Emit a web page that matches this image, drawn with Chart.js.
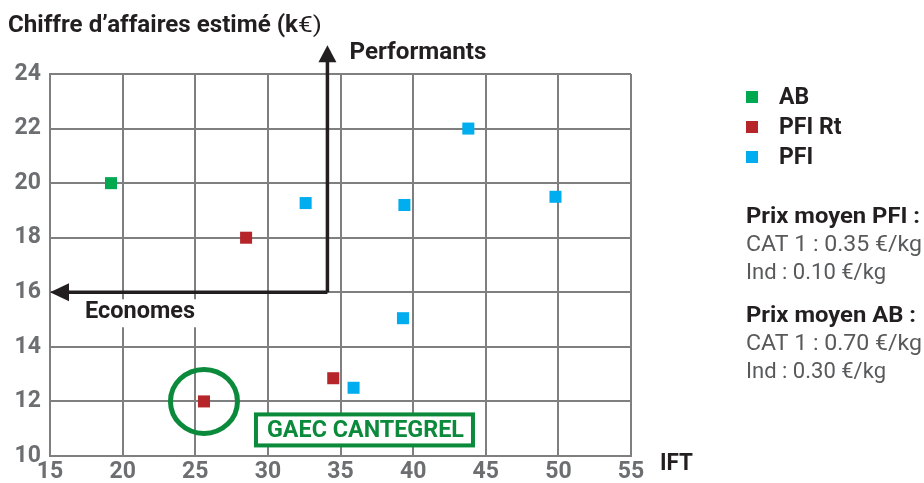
<!DOCTYPE html>
<html><head><meta charset="utf-8">
<script src="https://cdn.jsdelivr.net/npm/chart.js@4"></script>
<style>html,body{margin:0;padding:0;background:#fff}#wrap{width:924px;height:483px}</style>
</head><body><div id="wrap"><canvas id="c" width="924" height="483"></canvas></div>
<script>
const seriesNames = ["AB", "PFI Rt", "PFI"];
const seriesColors = ["#00a94f", "#b5252a", "#00aeef"];
const abX = [19.2];
const abY = [20.0];
const pfiRtX = [28.5, 34.5, 25.6];
const pfiRtY = [18.0, 12.85, 12.0];
const pfiX = [32.6, 39.4, 43.8, 49.8, 39.3, 35.9];
const pfiY = [19.27, 19.2, 22.0, 19.5, 15.05, 12.5];
const xTicks = [15, 20, 25, 30, 35, 40, 45, 50, 55];
const yTicks = [10, 12, 14, 16, 18, 20, 22, 24];
const yTitle = "Chiffre d\u2019affaires estim\u00e9 (k";
const xTitle = "IFT";
const priceLines = [
  ["Prix moyen PFI :", true], ["CAT 1 : 0.35 \u20ac/kg", false], ["Ind : 0.10 \u20ac/kg", false],
  ["Prix moyen AB :", true], ["CAT 1 : 0.70 \u20ac/kg", false], ["Ind : 0.30 \u20ac/kg", false]
];
const quadrant = { x: 34.1, y: 16, topArrow: 25.05 };
const highlight = { x: 25.6, y: 12.0, label: "GAEC CANTEGREL" };

const FONT = "Roboto, 'Liberation Sans', sans-serif";
const pts = (xs, ys) => xs.map((x, i) => ({ x: x, y: ys[i] }));

function fitText(ctx, text, x, y, w) {
  const m = ctx.measureText(text).width;
  ctx.save(); ctx.translate(x, y); ctx.scale(w / m, 1); ctx.fillText(text, 0, 0); ctx.restore();
}

const overlay = {
  id: 'overlay',
  afterDatasetsDraw(chart) {
    const ctx = chart.ctx, xs = chart.scales.x, ys = chart.scales.y;
    ctx.save();
    const qx = xs.getPixelForValue(quadrant.x), qy = ys.getPixelForValue(quadrant.y);
    const topY = ys.getPixelForValue(quadrant.topArrow);
    const leftX = xs.getPixelForValue(xs.min);
    ctx.strokeStyle = "#231f20"; ctx.fillStyle = "#231f20"; ctx.lineWidth = 3.5;
    ctx.beginPath(); ctx.moveTo(qx, qy); ctx.lineTo(qx, topY + 14); ctx.stroke();
    ctx.beginPath(); ctx.moveTo(qx, qy); ctx.lineTo(leftX + 16, qy); ctx.stroke();
    ctx.beginPath(); ctx.moveTo(qx, topY); ctx.lineTo(qx - 9, topY + 17); ctx.lineTo(qx + 9, topY + 17); ctx.closePath(); ctx.fill();
    ctx.beginPath(); ctx.moveTo(leftX, qy); ctx.lineTo(leftX + 19, qy - 9); ctx.lineTo(leftX + 19, qy + 9); ctx.closePath(); ctx.fill();
    ctx.font = "bold 23px " + FONT; ctx.textBaseline = "middle"; ctx.textAlign = "left";
    fitText(ctx, "Performants", qx + 22, topY + 8, 137);
    ctx.fillStyle = "#fff"; ctx.fillRect(80, qy + 7, 120, 28);
    ctx.fillStyle = "#231f20"; fitText(ctx, "Economes", 85, qy + 20, 110);
    const hx = xs.getPixelForValue(highlight.x), hy = ys.getPixelForValue(highlight.y);
    ctx.strokeStyle = "#0a8a3a"; ctx.lineWidth = 5;
    ctx.beginPath(); ctx.ellipse(hx, hy, 33.5, 32, 0, 0, Math.PI * 2); ctx.stroke();
    ctx.font = "bold 23px " + FONT;
    const bx = hx + 52, by = hy + 13, bw = 217, bh = 31;
    ctx.fillStyle = "#fff"; ctx.fillRect(bx, by, bw, bh);
    ctx.lineWidth = 4; ctx.strokeRect(bx, by, bw, bh);
    ctx.fillStyle = "#0a8a3a";
    fitText(ctx, highlight.label, bx + 11, by + bh / 2 + 1, 197);
    ctx.fillStyle = "#231f20"; ctx.font = "bold 23px " + FONT;
    fitText(ctx, yTitle, 8, 26, 290);
    ctx.font = "22px " + FONT; fitText(ctx, "\u20ac)", 298, 26, 24);
    ctx.font = "bold 23px " + FONT; fitText(ctx, xTitle, 660, 464, 33);
    chart.data.datasets.forEach((ds, i) => {
      const ly = 97 + i * 30;
      ctx.fillStyle = ds.backgroundColor; ctx.fillRect(746, ly - 6, 12, 12);
      ctx.fillStyle = "#231f20"; ctx.font = "bold 23px " + FONT;
      ctx.fillText(ds.label, 779, ly + 1);
    });
    const py = [217, 245, 273, 316, 344, 372];
    const pw = [174, 176, 140, 170, 176, 140];
    priceLines.forEach((l, i) => {
      ctx.font = (l[1] ? "bold " : "") + "22px " + FONT;
      ctx.fillStyle = l[1] ? "#231f20" : "#58595b";
      fitText(ctx, l[0], 746, py[i], pw[i]);
    });
    ctx.restore();
  }
};

new Chart(document.getElementById('c'), {
  type: 'scatter',
  data: {
    datasets: [
      { label: seriesNames[0], data: pts(abX, abY), backgroundColor: seriesColors[0] },
      { label: seriesNames[1], data: pts(pfiRtX, pfiRtY), backgroundColor: seriesColors[1] },
      { label: seriesNames[2], data: pts(pfiX, pfiY), backgroundColor: seriesColors[2] }
    ].map(d => Object.assign(d, { pointStyle: 'rect', pointRadius: 8.5, borderWidth: 0, borderColor: d.backgroundColor }))
  },
  options: {
    responsive: false, animation: false,
    layout: { padding: { top: 74, right: 293, left: 0, bottom: 0 } },
    plugins: { legend: { display: false }, tooltip: { enabled: false } },
    scales: {
      x: {
        type: 'linear', min: 15, max: 55,
        afterBuildTicks: s => { s.ticks = xTicks.map(v => ({ value: v })); },
        afterFit: s => { s.height = 27; },
        grid: { color: '#7f7f7f', lineWidth: 2, drawTicks: false },
        border: { color: '#7f7f7f', width: 2 },
        ticks: { color: '#6d6e71', font: { family: FONT, size: 23, weight: 'bold' }, padding: 2, maxRotation: 0 }
      },
      y: {
        type: 'linear', min: 10, max: 24,
        afterBuildTicks: s => { s.ticks = yTicks.map(v => ({ value: v })); },
        afterFit: s => { s.width = 50; },
        grid: { color: '#7f7f7f', lineWidth: 2, drawTicks: false },
        border: { color: '#7f7f7f', width: 2 },
        ticks: { color: '#6d6e71', font: { family: FONT, size: 23, weight: 'bold' }, padding: 9 }
      }
    }
  },
  plugins: [overlay]
});
</script></body></html>
